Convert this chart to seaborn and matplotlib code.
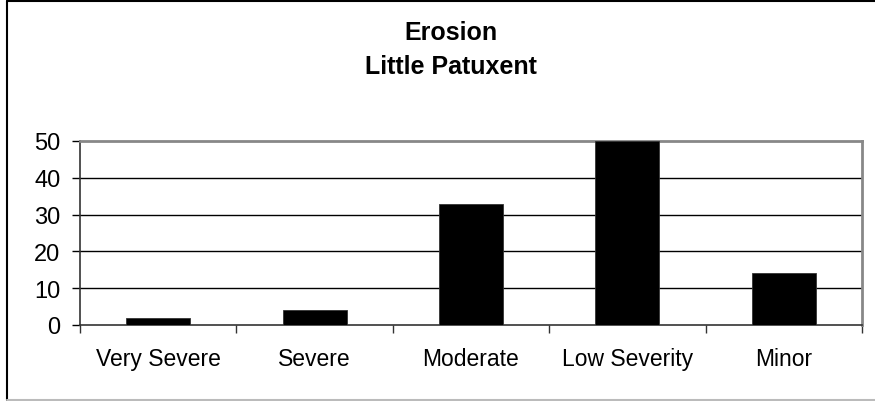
import matplotlib
matplotlib.use("Agg")
import matplotlib.pyplot as plt
import matplotlib.lines as mlines
import seaborn as sns
import pandas as pd

# Data
categories = ["Very Severe", "Severe", "Moderate", "Low Severity", "Minor"]
values = [2, 4, 33, 50, 14]
y_ticks = [0, 10, 20, 30, 40, 50]

df = pd.DataFrame({"category": categories, "value": values})

sns.set_theme(style="white")
plt.rcParams["font.family"] = ["Liberation Sans", "DejaVu Sans"]
plt.rcParams["text.color"] = "black"
plt.rcParams["xtick.color"] = "black"
plt.rcParams["ytick.color"] = "black"
plt.rcParams["xtick.labelcolor"] = "black"
plt.rcParams["ytick.labelcolor"] = "black"

fig = plt.figure(figsize=(8.75, 4.02), dpi=100)
ax = fig.add_axes([80 / 875, 1 - 326 / 402, 782 / 875, 184 / 402])

sns.barplot(data=df, x="category", y="value", color="black", width=0.41,
            saturation=1, edgecolor="#333333", linewidth=0.6, ax=ax, zorder=3)

ax.set_ylim(0, 50)
ax.set_xlim(-0.5, len(categories) - 0.5)
ax.set_yticks(y_ticks)
ax.set_yticklabels([str(v) for v in y_ticks])
ax.set_xlabel("")
ax.set_ylabel("")

# gridlines
for v in y_ticks[1:-1]:
    ax.axhline(v, color="black", linewidth=1.0, zorder=1)

# ticks: y outward, x at category boundaries
ax.tick_params(axis="y", direction="out", length=6, width=1, color="black",
               pad=8, labelsize=17, left=True)
ax.tick_params(axis="x", which="major", length=0, pad=16, labelsize=16.5)
ax.set_xticks([i + 0.5 for i in range(-1, len(categories))], minor=True)
ax.tick_params(axis="x", which="minor", direction="out", length=6, width=1,
               color="#333333", bottom=True)

for s in ["left", "bottom"]:
    ax.spines[s].set_color("#333333")
    ax.spines[s].set_linewidth(1.2)
for s in ["top", "right"]:
    ax.spines[s].set_color("#888888")
    ax.spines[s].set_linewidth(2)
    ax.spines[s].set_visible(True)

fig.text(451 / 875, 1 - 33 / 402, "Erosion", ha="center", va="center",
         fontsize=18, fontweight="bold", color="black")
fig.text(451 / 875, 1 - 67 / 402, "Little Patuxent", ha="center", va="center",
         fontsize=18, fontweight="bold", color="black")

# outer chart border
fig.add_artist(mlines.Line2D([7 / 875, 7 / 875], [1 - 2 / 402, 1 - 401 / 402],
                             color="black", linewidth=1.5))
fig.add_artist(mlines.Line2D([7 / 875, 1], [1 - 2 / 402, 1 - 2 / 402],
                             color="black", linewidth=1.5))
fig.add_artist(mlines.Line2D([7 / 875, 1], [1 - 401 / 402, 1 - 401 / 402],
                             color="#bbbbbb", linewidth=1.5))

fig.savefig("out.png", dpi=100)
